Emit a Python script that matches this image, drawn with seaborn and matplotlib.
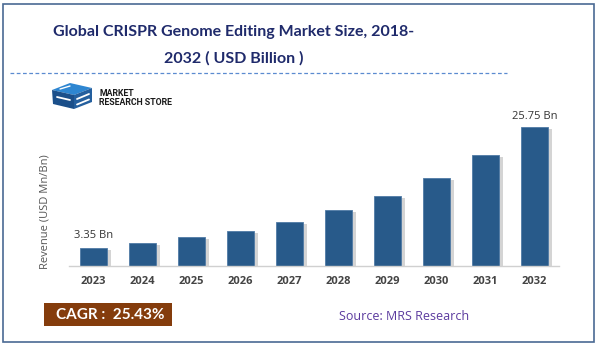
import matplotlib
matplotlib.use("Agg")
import matplotlib.pyplot as plt
import matplotlib.patches as mpatches
import matplotlib.patheffects as pe
import seaborn as sns
import pandas as pd

years = ["2023", "2024", "2025", "2026", "2027", "2028", "2029", "2030", "2031", "2032"]
revenue = [3.35, 4.2, 5.3, 6.55, 8.2, 10.3, 12.9, 16.25, 20.5, 25.75]
first_label = "3.35 Bn"
last_label = "25.75 Bn"
title_line1 = "Global CRISPR Genome Editing Market Size, 2018-"
title_line2 = "2032 ( USD Billion )"
ylabel = "Revenue (USD Mn/Bn)"
cagr_text = "CAGR :  25.43%"
source_text = "Source: MRS Research"

df = pd.DataFrame({"year": years, "revenue": revenue})

sns.set_theme(style="white")
plt.rcParams["font.family"] = ["Open Sans", "DejaVu Sans"]

W, H = 598, 346
fig = plt.figure(figsize=(W / 100, H / 100), dpi=100)
fig.patch.set_facecolor("white")


def fx(x):
    return x / W


def fy(y):
    return 1 - y / H


# outer frame
fig.add_artist(mpatches.Rectangle((3 / W, 4 / H), 591 / W, 338 / H, transform=fig.transFigure,
                                  fill=False, edgecolor="#4A6A93", linewidth=1.2))

# title
title_color = "#1F2A6B"
fig.text(fx(234), fy(32), title_line1, ha="center", va="center", fontsize=11.5,
         fontweight="bold", color=title_color, family=["Lato", "DejaVu Sans"])
fig.text(fx(234), fy(58), title_line2, ha="center", va="center", fontsize=11.5,
         fontweight="bold", color=title_color, family=["Lato", "DejaVu Sans"])
fig.add_artist(plt.Line2D([fx(10), fx(507)], [fy(73), fy(73)], transform=fig.transFigure,
                          color="#5B8BD0", linewidth=0.9, linestyle=(0, (3, 2))))

# logo (simple block shape)
logo_dark = "#1B4F8A"
logo_light = "#2E86D1"
fig.add_artist(mpatches.Polygon([(fx(52), fy(90)), (fx(70), fy(83)), (fx(92), fy(88)), (fx(74), fy(95))],
                                closed=True, transform=fig.transFigure, facecolor=logo_light, edgecolor="none"))
fig.add_artist(mpatches.Polygon([(fx(52), fy(90)), (fx(74), fy(95)), (fx(74), fy(109)), (fx(53), fy(104))],
                                closed=True, transform=fig.transFigure, facecolor=logo_dark, edgecolor="none"))
fig.add_artist(mpatches.Polygon([(fx(74), fy(95)), (fx(92), fy(88)), (fx(92), fy(102)), (fx(74), fy(109))],
                                closed=True, transform=fig.transFigure, facecolor="#245F9E", edgecolor="none"))
fig.add_artist(plt.Line2D([fx(77), fx(89)], [fy(99), fy(94)], transform=fig.transFigure, color="white", linewidth=1.3))
fig.add_artist(plt.Line2D([fx(77), fx(89)], [fy(104.5), fy(99.5)], transform=fig.transFigure, color="white", linewidth=1.3))
fig.add_artist(plt.Line2D([fx(57), fx(70)], [fy(97), fy(100)], transform=fig.transFigure, color="white", linewidth=1.3))
fig.add_artist(plt.Line2D([fx(60), fx(70)], [fy(89), fy(86)], transform=fig.transFigure, color="white", linewidth=1.0))
fig.text(fx(99), fy(94), "MARKET", ha="left", va="center", fontsize=6.3, fontweight="bold",
         color="#1A1A1A", family=["Roboto", "DejaVu Sans"])
fig.text(fx(99), fy(102.5), "RESEARCH STORE", ha="left", va="center", fontsize=6.3, fontweight="bold",
         color="#1A1A1A", family=["Roboto", "DejaVu Sans"])

# chart axes
ax = fig.add_axes([fx(69), fy(266), 490 / W, 151 / H])
bar_color = "#285A8A"
sns.barplot(data=df, x="year", y="revenue", color=bar_color, width=0.57, ax=ax,
            saturation=1, edgecolor="#4F7AA5", linewidth=0.6)
for p in ax.patches:
    p.set_path_effects([pe.SimplePatchShadow(offset=(2.5, -1.5), shadow_rgbFace="#A0A0A0", alpha=0.45),
                        pe.Normal()])
ax.set_xlim(-0.5, 9.5)
ax.set_ylim(0, 27.9)
ax.set_yticks([])
ax.set_xlabel("")
ax.set_ylabel("")
for s in ["top", "right", "left"]:
    ax.spines[s].set_visible(False)
ax.spines["bottom"].set_color("#D0D0D0")
ax.spines["bottom"].set_linewidth(1.0)
ax.tick_params(axis="x", length=0, pad=7)
for t in ax.get_xticklabels():
    t.set_fontsize(8)
    t.set_fontweight("bold")
    t.set_color("#444444")

ax.annotate(first_label, (0, revenue[0]), xytext=(0, 5), textcoords="offset points",
            ha="center", va="bottom", fontsize=8, color="#333333")
ax.annotate(last_label, (len(revenue) - 1, revenue[-1]), xytext=(0, 3), textcoords="offset points",
            ha="center", va="bottom", fontsize=8, color="#333333")

fig.text(fx(45), fy(212), ylabel, rotation=90, ha="center", va="center", fontsize=8, color="#555555")

# CAGR box
fig.add_artist(mpatches.Rectangle((fx(44), fy(326)), 128 / W, 23 / H, transform=fig.transFigure,
                                  facecolor="#843C0C", edgecolor="none"))
fig.text(fx(110), fy(315), cagr_text, ha="center", va="center", fontsize=11, fontweight="bold",
         color="white", family=["Lato", "DejaVu Sans"])

fig.text(fx(404), fy(317), source_text, ha="center", va="center", fontsize=9, color="#5B3A9E")

fig.savefig("out.png", dpi=100)
